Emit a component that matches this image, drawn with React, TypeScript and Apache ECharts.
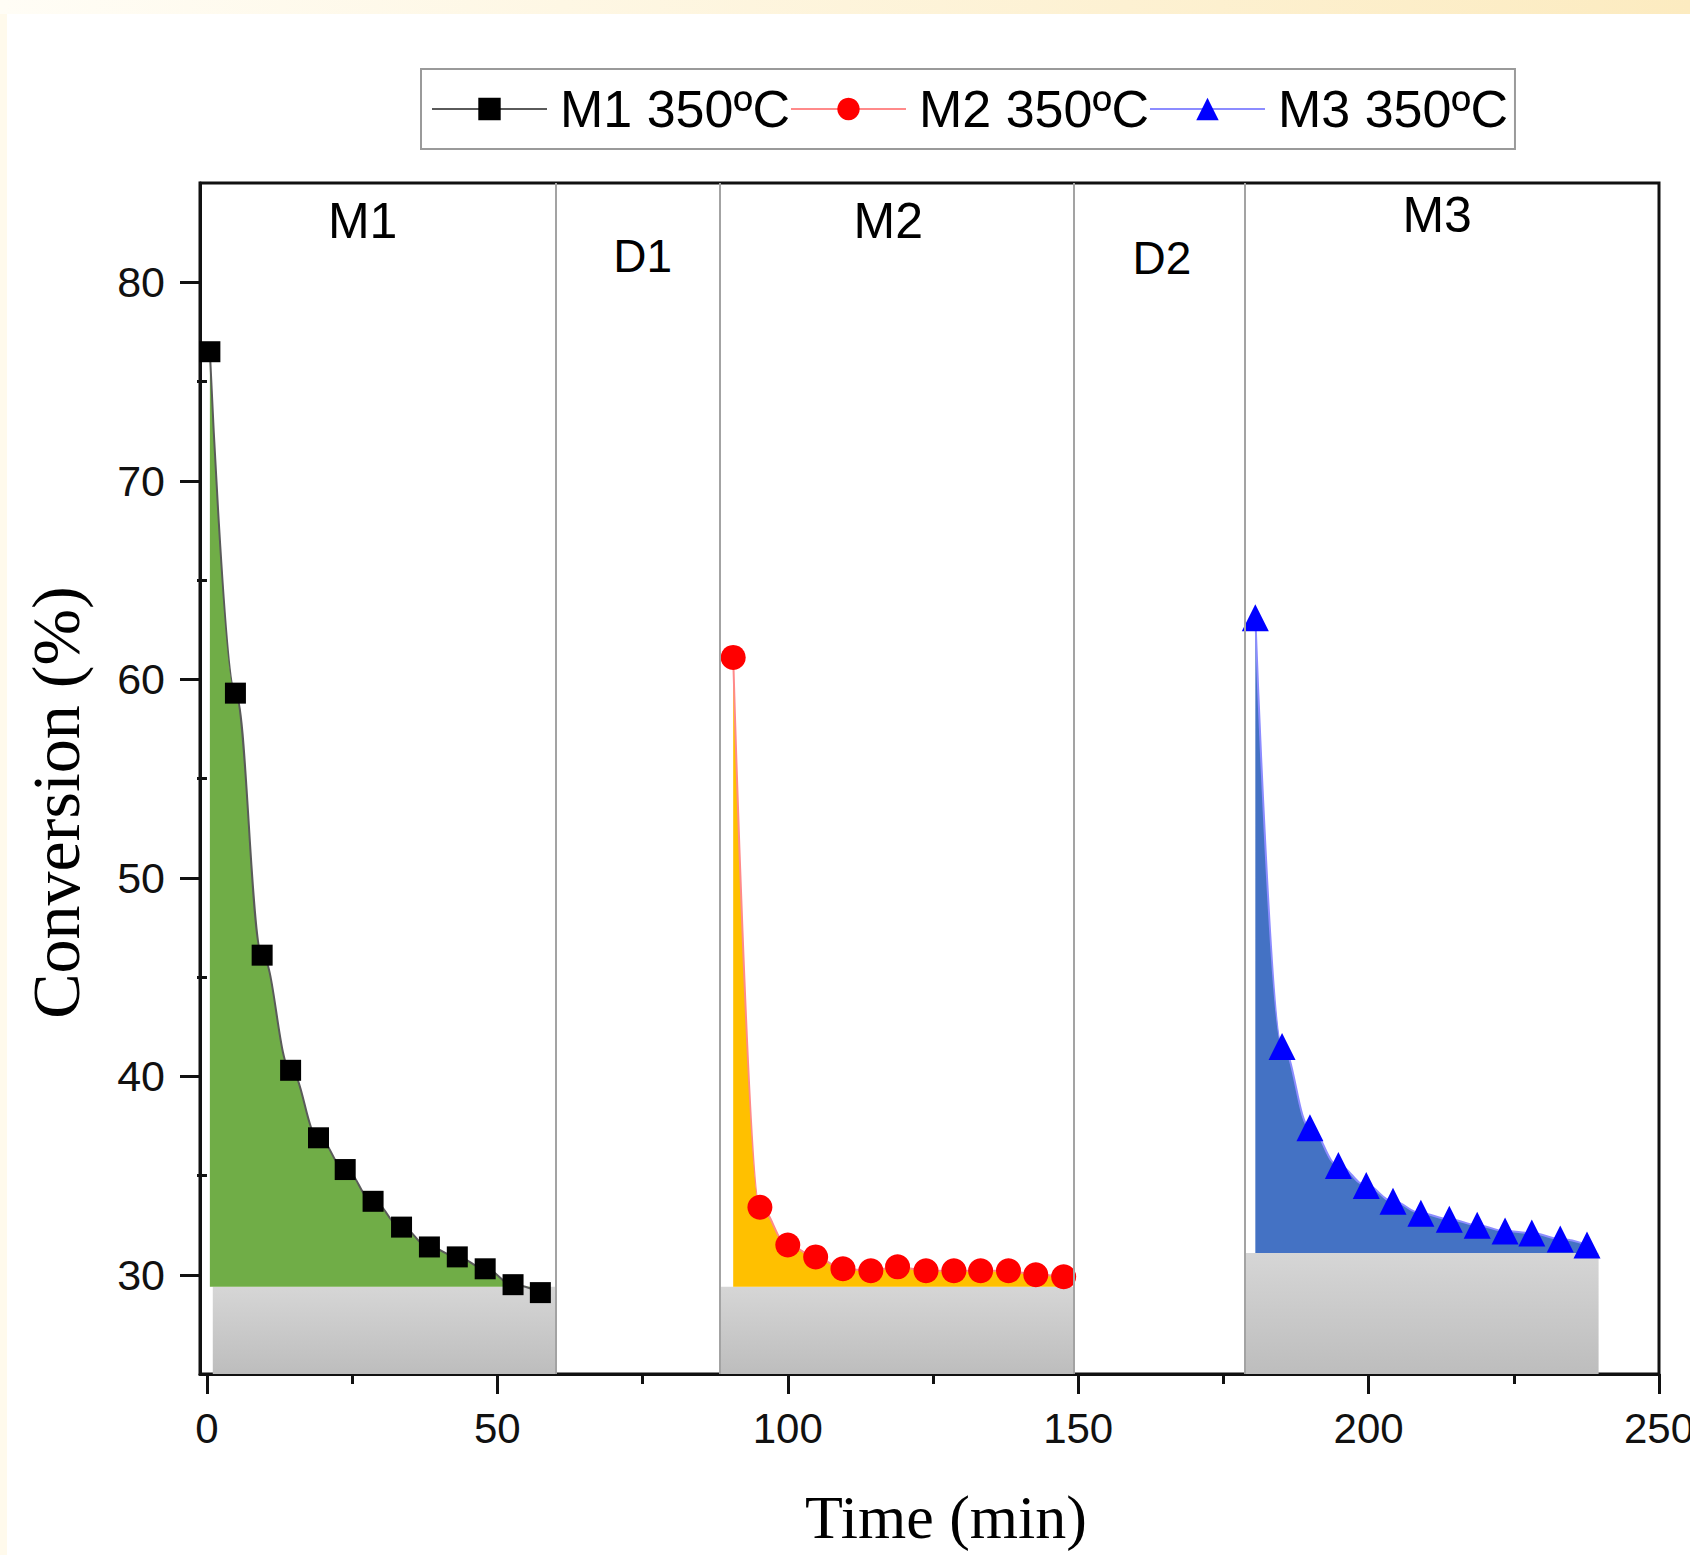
import React, { useEffect, useRef } from "react";
import * as echarts from "echarts";

// ---- data ----
const m1Time = [0.5, 4.9, 9.5, 14.4, 19.2, 23.8, 28.6, 33.5, 38.3, 43.1, 47.9, 52.7, 57.4];
const m1Conv = [76.5, 59.3, 46.1, 40.3, 36.9, 35.3, 33.7, 32.4, 31.4, 30.9, 30.3, 29.5, 29.1];
const m2Time = [90.6, 95.2, 100.0, 104.8, 109.5, 114.3, 118.9, 123.8, 128.6, 133.2, 138.0, 142.7, 147.5];
const m2Conv = [61.1, 33.4, 31.5, 30.9, 30.3, 30.2, 30.4, 30.2, 30.2, 30.2, 30.2, 30.0, 29.9];
const m3Time = [180.5, 185.1, 189.9, 194.8, 199.6, 204.2, 209.0, 213.9, 218.7, 223.5, 228.1, 233.0, 237.6];
const m3Conv = [63.1, 41.5, 37.4, 35.5, 34.5, 33.7, 33.1, 32.8, 32.5, 32.2, 32.1, 31.8, 31.5];

const seriesNames = ["M1 350ºC", "M2 350ºC", "M3 350ºC"];

// regions: [xStart, xEnd, baseline]
const greyBlocks = [
  [1.0, 60.1, 29.4],
  [88.3, 149.3, 29.4],
  [178.6, 239.6, 31.1],
];
const dividerTimes = [60.1, 88.3, 149.3, 178.6];
const sectionLabels = ["M1", "D1", "M2", "D2", "M3"];
const sectionLabelX = [26.8, 75.0, 117.3, 164.4, 211.8];
const sectionLabelY = [83.1, 81.3, 83.1, 81.2, 83.4];

const xTicks = [0, 50, 100, 150, 200, 250];
const xMinorTicks = [25, 75, 125, 175, 225];
const yTicks = [30, 40, 50, 60, 70, 80];
const yMinorTicks = [35, 45, 55, 65, 75];

const zip = (a: number[], b: number[]) => a.map((v, i) => [v, b[i]]);

export default function App() {
  const ref = useRef<HTMLDivElement>(null);
  useEffect(() => {
    if (!ref.current) return;
    const chart = echarts.init(ref.current, undefined, { renderer: "svg" });
    const grey = new echarts.graphic.LinearGradient(0, 0, 0, 1, [
      { offset: 0, color: "#d6d6d6" },
      { offset: 1, color: "#bdbdbd" },
    ]);
    const sans = "Liberation Sans, Arial, sans-serif";
    const serif = "Liberation Serif, Times New Roman, serif";
    const tickColor = "#111111";
    const greyArea = (i: number) => ({
      silent: true,
      itemStyle: { color: grey },
      data: [[{ coord: [greyBlocks[i][0], 25] }, { coord: [greyBlocks[i][1], greyBlocks[i][2]] }]],
    });
    const fills = ["#70ad47", "#ffc000", "#4472c4"];
    const lineColors = ["#5a5a5a", "#ff8a8a", "#8c8cff"];
    const markerColors = ["#000000", "#ff0000", "#0000ff"];
    const symbols = ["rect", "circle", "triangle"];
    const sizes = [21, 25, 27];
    const dataSets = [zip(m1Time, m1Conv), zip(m2Time, m2Conv), zip(m3Time, m3Conv)];

    const mainSeries: any[] = dataSets.map((d, i) => ({
      name: seriesNames[i],
      type: "line",
      xAxisIndex: 0,
      yAxisIndex: 0,
      data: d,
      smooth: 0.4,
      smoothMonotone: "x",
      symbol: symbols[i],
      symbolSize: sizes[i],
      itemStyle: { color: markerColors[i] },
      lineStyle: { color: lineColors[i], width: 2 },
      areaStyle: { color: fills[i], opacity: 1, origin: greyBlocks[i][2] },
      markArea: greyArea(i),
      z: 3,
      ...(i === 0
        ? {
            markLine: {
              silent: true,
              symbol: ["none", "none"],
              label: { show: false },
              lineStyle: { color: "#a3a3a3", width: 2, type: "solid" },
              data: dividerTimes.map((t) => ({ xAxis: t })),
            },
          }
        : {}),
    }));

    const labelSeries = {
      name: "sections",
      type: "scatter",
      xAxisIndex: 0,
      yAxisIndex: 0,
      silent: true,
      symbolSize: 1,
      itemStyle: { color: "rgba(0,0,0,0)", opacity: 1 },
      data: sectionLabels.map((n, i) => ({
        name: n,
        value: [sectionLabelX[i], sectionLabelY[i]],
        label: { fontSize: n.startsWith("D") ? 46 : 50 },
      })),
      label: {
        show: true,
        position: "inside",
        formatter: "{b}",
        fontFamily: sans,
        color: "#000",
        opacity: 1,
        fontSize: 50,
      },
      z: 5,
    };

    const option: any = {
      animation: false,
      backgroundColor: "#ffffff",
      graphic: [
        {
          type: "rect",
          left: 0,
          top: 0,
          shape: { width: 1690, height: 14 },
          style: {
            fill: new echarts.graphic.LinearGradient(0, 0, 1, 0, [
              { offset: 0, color: "#fffdf6" },
              { offset: 1, color: "#fcebc0" },
            ]),
          },
          silent: true,
        },
        {
          type: "rect",
          left: 0,
          top: 14,
          shape: { width: 7, height: 1541 },
          style: { fill: "#fffaec" },
          silent: true,
        },
      ],
      legend: {
        data: seriesNames,
        left: 421,
        top: 69,
        orient: "horizontal",
        itemWidth: 115,
        itemHeight: 28,
        itemGap: 0,
        padding: [14, 7, 14, 10],
        borderColor: "#9a9a9a",
        borderWidth: 2,
        backgroundColor: "#ffffff",
        textStyle: { fontFamily: sans, fontSize: 52, color: "#000", padding: [0, 0, 0, 8] },
      },
      grid: {
        left: 200,
        right: 31,
        top: 183,
        bottom: 181,
        show: true,
        borderColor: tickColor,
        borderWidth: 3,
        backgroundColor: "transparent",
        outerBoundsMode: "none",
        containLabel: false,
      },
      xAxis: [
        {
          type: "value",
          min: -1.2,
          max: 250,
          name: "Time (min)",
          nameLocation: "middle",
          nameGap: 112,
          nameTextStyle: { fontFamily: serif, fontSize: 62, color: "#000", padding: [0, 0, 0, 33] },
          axisLine: { show: true, onZero: false, lineStyle: { color: tickColor, width: 3 } },
          axisTick: { show: true, length: 20, customValues: xTicks, lineStyle: { color: tickColor, width: 3 } },
          axisLabel: { customValues: xTicks, margin: 33, fontFamily: sans, fontSize: 42, color: "#111" },
          splitLine: { show: false },
        },
        {
          type: "value",
          min: -1.2,
          max: 250,
          position: "bottom",
          axisLine: { show: false },
          axisTick: { show: true, length: 10, customValues: xMinorTicks, lineStyle: { color: tickColor, width: 3 } },
          axisLabel: { show: false },
          splitLine: { show: false },
        },
      ],
      yAxis: [
        {
          type: "value",
          min: 25,
          max: 85,
          name: "Conversion (%)",
          nameLocation: "middle",
          nameGap: 110,
          nameTextStyle: { fontFamily: serif, fontSize: 68, color: "#000", padding: [0, 48, 0, 0] },
          axisLine: { show: true, onZero: false, lineStyle: { color: tickColor, width: 3 } },
          axisTick: { show: true, length: 20, customValues: yTicks, lineStyle: { color: tickColor, width: 3 } },
          axisLabel: { customValues: yTicks, margin: 35, fontFamily: sans, fontSize: 43, color: "#111" },
          splitLine: { show: false },
        },
        {
          type: "value",
          min: 25,
          max: 85,
          position: "left",
          axisLine: { show: false },
          axisTick: { show: true, length: 10, customValues: yMinorTicks, lineStyle: { color: tickColor, width: 3 } },
          axisLabel: { show: false },
          splitLine: { show: false },
        },
      ],
      series: [...mainSeries, labelSeries],
    };
    chart.setOption(option);
    return () => chart.dispose();
  }, []);
  return (
    <div
      ref={ref}
      style={{ position: "absolute", left: 0, top: 0, width: 1690, height: 1555 }}
    />
  );
}
